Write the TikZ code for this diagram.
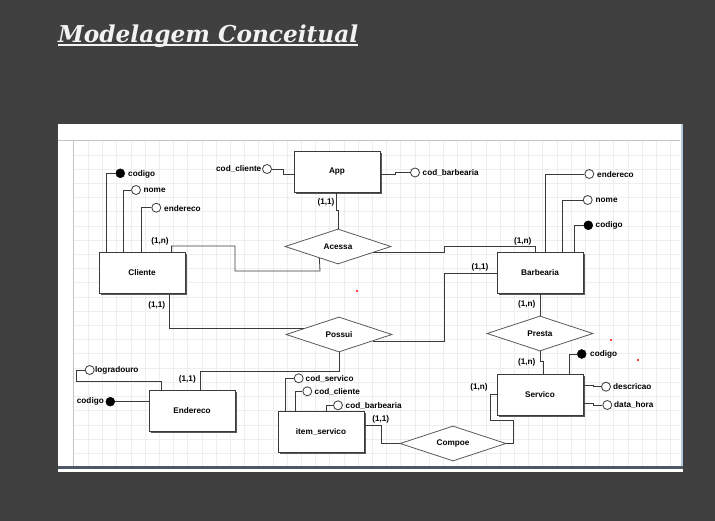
\documentclass[tikz,border=0pt]{standalone}
\usepackage{fontspec}
\setmainfont{Liberation Sans}
\newfontfamily\titlefont{DejaVu Serif}
\usetikzlibrary{shapes.geometric,shadows}
\definecolor{bgdark}{HTML}{404040}
\definecolor{titlecol}{HTML}{F2F2F2}
\definecolor{gridcol}{HTML}{EDEDF2}
\definecolor{framecol}{HTML}{C4C4C4}
\definecolor{scrollcol}{HTML}{B8C8E0}
\definecolor{bottomcol}{HTML}{4E5866}
\definecolor{linecol}{HTML}{3A3A3A}
\definecolor{diacol}{HTML}{5A5A5A}
\tikzset{
  er/.style={font=\fontsize{8.2}{9}\selectfont\bfseries, text=black},
  entity/.style={er, draw=linecol, line width=0.8pt, fill=white, minimum width=86pt, minimum height=41pt, inner sep=0pt,
     drop shadow={shadow xshift=1.6pt, shadow yshift=-1.6pt, fill=black!65, opacity=1}},
  rel/.style={er, shape=diamond, draw=diacol, line width=0.8pt, fill=white, minimum width=106pt, minimum height=35pt, inner sep=0pt, aspect=3},
  conn/.style={draw=linecol, line width=0.8pt},
  attr/.style={circle, draw=linecol, line width=0.8pt, fill=white, minimum size=9pt, inner sep=0pt},
  keyattr/.style={circle, draw=black, fill=black, minimum size=9pt, inner sep=0pt},
  atext/.style={er, inner sep=0pt},
  card/.style={er, inner sep=0pt},
}
\begin{document}
\begin{tikzpicture}[x=1pt,y=-1pt]
\useasboundingbox (0,0) rectangle (715,521);
\fill[bgdark] (0,0) rectangle (715,521);
% title
\node[anchor=base west, inner sep=0pt, text=titlecol] (title) at (58,42.7)
  {\resizebox{300pt}{!}{\titlefont\bfseries\itshape Modelagem Conceitual}};
\draw[titlecol, line width=1.6pt] (title.south west |- 0,45) -- (title.south east |- 0,45);
% screenshot panel
\fill[white] (58,124) rectangle (683,472);
\foreach \gx in {88.3,102.5,...,680} \draw[gridcol, line width=0.6pt] (\gx,141) -- (\gx,467);
\foreach \gy in {155,169.2,...,467} \draw[gridcol, line width=0.6pt] (74,\gy) -- (680,\gy);
\draw[framecol, line width=1pt] (58,141) -- (680,141);
\draw[framecol, line width=1pt] (73.5,141) -- (73.5,467);
\fill[scrollcol] (680.5,124) rectangle (683,467);
\fill[bottomcol] (58,466) rectangle (683,468.5);
\fill[bgdark] (683,124) rectangle (715,521);
\fill[bgdark] (58,472) rectangle (683,521);

% entities
\node[entity] (app) at (337,171.5) {App};
\node[entity] (cliente) at (142,273) {Cliente};
\node[entity] (barbearia) at (540,273) {Barbearia};
\node[entity] (endereco) at (192,410.5) {Endereco};
\node[entity] (item) at (321,432) {item\_servico};
\node[entity] (servico) at (540,394.5) {Servico};
% relationships
\node[rel] (acessa) at (338,246.5) {Acessa};
\node[rel] (possui) at (339,334.5) {Possui};
\node[rel] (presta) at (540,333.5) {Presta};
\node[rel] (compoe) at (453,443.5) {Compoe};

% App attributes
\node[attr] (appcc) at (267,169) {};
\node[atext, anchor=east] (tappcc) at (261.5,169) {cod\_cliente};
\draw[conn] (appcc.east) -| (283,174) -- ([yshift=-2.5pt]app.west);
\node[attr] (appcb) at (415,172.5) {};
\node[atext, anchor=west] (tappcb) at (422.5,173) {cod\_barbearia};
\draw[conn] ([yshift=-2.5pt]app.east) -| (395,172.5) -- (appcb.west);

% Cliente attributes
\node[keyattr] (clcod) at (120.3,173.3) {};
\node[atext, anchor=west] (tclcod) at (128,174) {codigo};
\draw[conn] ([xshift=8pt]cliente.north west) |- (clcod.west);
\node[attr] (clnome) at (136,190) {};
\node[atext, anchor=west] (tclnome) at (143.5,190.5) {nome};
\draw[conn] ([xshift=25pt]cliente.north west) |- (clnome.west);
\node[attr] (clend) at (156.3,207.7) {};
\node[atext, anchor=west] (tclend) at (164,208.2) {endereco};
\draw[conn] ([xshift=42.3pt]cliente.north west) |- (clend.west);

% Barbearia attributes
\node[attr] (bend) at (589.3,174) {};
\node[atext, anchor=west] (tbend) at (597,174.5) {endereco};
\draw[conn] ([xshift=48.7pt]barbearia.north west) |- (bend.west);
\node[attr] (bnome) at (587.7,200) {};
\node[atext, anchor=west] (tbnome) at (595.5,200.5) {nome};
\draw[conn] ([xshift=65.7pt]barbearia.north west) |- (bnome.west);
\node[keyattr] (bcod) at (588.3,225.3) {};
\node[atext, anchor=west] (tbcod) at (595.5,225.8) {codigo};
\draw[conn] ([xshift=78pt]barbearia.north west) |- (bcod.west);

% Endereco attributes
\node[attr] (elog) at (89.7,370) {};
\node[atext, anchor=west] (telog) at (95,370.5) {logradouro};
\draw[conn] (elog.west) -| (76.3,381.7) -| ([xshift=12.3pt]endereco.north west);
\node[keyattr] (ecod) at (110.3,401.7) {};
\node[atext, anchor=east] (tecod) at (104,401.7) {codigo};
\draw[conn] (ecod.east) -- (ecod.east -| endereco.west);

% item_servico attributes
\node[attr] (iserv) at (298.7,378.3) {};
\node[atext, anchor=west] (tiserv) at (305.5,378.8) {cod\_servico};
\draw[conn] ([xshift=7.7pt]item.north west) |- (iserv.west);
\node[attr] (icli) at (307.3,391.3) {};
\node[atext, anchor=west] (ticli) at (314.5,391.8) {cod\_cliente};
\draw[conn] ([xshift=17.7pt]item.north west) |- (icli.west);
\node[attr] (ibarb) at (338,405.3) {};
\node[atext, anchor=west] (tibarb) at (345.5,405.8) {cod\_barbearia};
\draw[conn] ([xshift=49pt]item.north west) |- (ibarb.west);

% Servico attributes
\node[keyattr] (scod) at (581.7,354) {};
\node[atext, anchor=west] (tscod) at (590,354.5) {codigo};
\draw[conn] ([xshift=73.2pt]servico.north west) |- (scod.west);
\node[attr] (sdesc) at (606,386.7) {};
\node[atext, anchor=west] (tsdesc) at (613,387) {descricao};
\draw[conn] ([yshift=9.5pt]servico.east) -| (593,386.7) -- (sdesc.west);
\node[attr] (sdh) at (607.3,405) {};
\node[atext, anchor=west] (tsdh) at (614,405.3) {data\_hora};
\draw[conn] ([yshift=-8.8pt]servico.east) -| (593,405) -- (sdh.west);

% relationship connectors
\draw[conn] ([xshift=-1pt]app.south) -- ++(0,18) -| (acessa.north);
\draw[conn] ([xshift=73pt]cliente.north west) |- (235,246) |- (320,271) -- (acessa.212.6);
\draw[conn] (acessa.-10.3) -| (444,246) -| ([xshift=-4.5pt]barbearia.north);
\draw[conn] ([xshift=70.7pt]cliente.south west) |- (possui.170.3);
\draw[conn] (possui.-11) -| (444,273) -- (barbearia.west);
\draw[conn] (possui.south) -- ++(0,19) -| ([xshift=51.3pt]endereco.north west);
\draw[conn] (barbearia.south) -- (presta.north);
\draw[conn] (presta.south) -- ++(0,10) -| ([xshift=3.3pt]servico.north);
\draw[conn] (compoe.east) -| (513.3,420) -| (490,394.5) -- (servico.west);
\draw[conn] ([yshift=7pt]item.east) -| (381.7,443.5) -- (compoe.west);

% cardinalities
\node[card] (c1) at (326,202) {(1,1)};
\node[card] (c2) at (160,241.5) {(1,n)};
\node[card] (c3) at (522.7,241.5) {(1,n)};
\node[card] (c4) at (480,267.7) {(1,1)};
\node[card] (c5) at (156.7,305) {(1,1)};
\node[card] (c6) at (187.3,379.3) {(1,1)};
\node[card] (c7) at (526.7,304) {(1,n)};
\node[card] (c8) at (526.7,362.5) {(1,n)};
\node[card] (c9) at (479,387.7) {(1,n)};
\node[card] (c10) at (380.7,419.3) {(1,1)};

% red marks
\fill[red] (357,291) circle (1.1);
\fill[red] (611,340) circle (1.1);
\fill[red] (638,360) circle (1.1);
\end{tikzpicture}
\end{document}
